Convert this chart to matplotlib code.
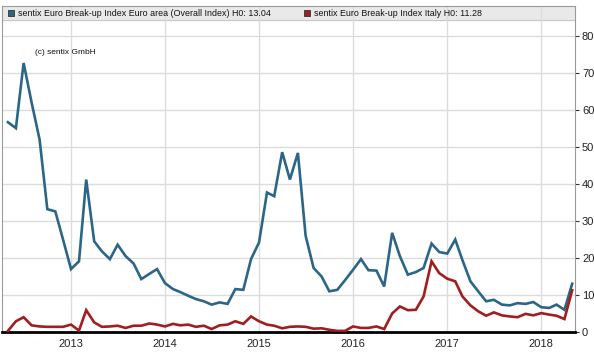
"""sentix Euro Break-up Index: Euro area vs Italy, monthly 2012-2018."""

import matplotlib
matplotlib.use("Agg")
import matplotlib.pyplot as plt
import matplotlib.dates as mdates
from matplotlib import font_manager
import pandas as pd

# monthly readings, May 2012 .. May 2018
months = pd.date_range("2012-05-01", "2018-05-01", freq="MS")

euro_area = [
    56.7, 55.1, 72.7, 62.0, 52.0, 33.2, 32.6, 25.0, 17.0, 19.1,
    41.2, 24.5, 21.8, 19.7, 23.6, 20.5, 18.5, 14.3, 15.7, 17.0,
    13.2, 11.6, 10.8, 9.8, 8.9, 8.3, 7.4, 8.0, 7.6, 11.6,
    11.4, 19.7, 24.2, 37.7, 36.7, 48.6, 41.2, 48.4, 26.0, 17.3,
    15.0, 11.0, 11.4, 14.0, 16.8, 19.7, 16.7, 16.6, 12.3, 26.8,
    20.5, 15.5, 16.2, 17.3, 23.9, 21.6, 21.2, 25.0, 19.4, 13.7,
    11.0, 8.3, 8.7, 7.4, 7.2, 7.8, 7.6, 8.1, 6.7, 6.5,
    7.4, 6.0, 13.04,
]
italy = [
    0.3, 2.9, 4.0, 1.8, 1.5, 1.4, 1.4, 1.4, 2.0, 0.4,
    5.9, 2.6, 1.4, 1.5, 1.7, 1.1, 1.7, 1.7, 2.3, 2.0,
    1.5, 2.2, 1.8, 2.0, 1.4, 1.7, 0.8, 1.8, 2.0, 2.9,
    2.2, 4.2, 2.9, 2.0, 1.7, 1.0, 1.4, 1.5, 1.4, 0.9,
    1.0, 0.6, 0.3, 0.3, 1.5, 1.1, 1.1, 1.5, 0.8, 5.0,
    6.9, 5.9, 6.0, 9.6, 19.1, 15.9, 14.4, 13.7, 9.6, 7.2,
    5.6, 4.4, 5.3, 4.5, 4.2, 4.0, 4.9, 4.5, 5.1, 4.7,
    4.4, 3.5, 11.28,
]

labels = [
    "sentix Euro Break-up Index Euro area (Overall Index) H0: 13.04",
    "sentix Euro Break-up Index Italy H0: 11.28",
]
colors = ["#2b6688", "#a11d1f"]
y_ticks = [0, 10, 20, 30, 40, 50, 60, 70, 80]

plt.rcParams["font.family"] = ["Liberation Sans", "DejaVu Sans"]

# the legend strip uses a condensed face if one is there
installed = {f.name for f in font_manager.fontManager.ttflist}
narrow = "Liberation Sans Narrow" if "Liberation Sans Narrow" in installed else None
legend_font = dict(family=narrow, fontsize=7.8) if narrow else dict(fontsize=6.4)

W, H = 594, 353
fig = plt.figure(figsize=(W / 100, H / 100), dpi=100)
ax = fig.add_axes([2 / W, 21 / H, 573 / W, 326 / H])

ax.plot(months, euro_area, color=colors[0], lw=1.9, zorder=3, solid_joinstyle="miter")
ax.plot(months, italy, color=colors[1], lw=1.9, zorder=3, solid_joinstyle="miter")

ymax = 80 + 30 / 3.7
ax.set_ylim(0, ymax)
ax.set_xlim(pd.Timestamp("2012-04-08"), pd.Timestamp("2018-05-12"))

# legend strip across the top of the plot area
band_lo = 80 + 16 / 3.7
ax.axhspan(band_lo, ymax, color="#e9e9e9", zorder=0.1)
ax.axhline(band_lo, color="#c8c8c8", lw=0.8, zorder=0.2)

ax.yaxis.tick_right()
ax.set_yticks(y_ticks)
ax.tick_params(axis="y", length=3, width=0.8, color="#333333", pad=2,
               labelsize=8, labelcolor="#222222")
ax.xaxis.set_major_locator(mdates.YearLocator())
ax.xaxis.set_major_formatter(mdates.DateFormatter("%Y"))
ax.tick_params(axis="x", length=0, pad=5, labelsize=8, labelcolor="#222222")

ax.grid(True, color="#dcdcdc", lw=1.0, zorder=0.5)
ax.set_axisbelow(True)

for side in ("left", "top", "right"):
    ax.spines[side].set_color("#9a9a9a")
    ax.spines[side].set_linewidth(0.8)
ax.spines["bottom"].set_color("black")
ax.spines["bottom"].set_linewidth(2.0)

# legend entries
legend_y = 1 - 7 / 326
for lbl, col, x0 in zip(labels, colors, [9, 305]):
    ax.plot([x0 / 573], [legend_y], transform=ax.transAxes, marker="s", ms=5,
            mfc=col, mec="#333333", mew=0.6, ls="none", clip_on=False, zorder=5)
    ax.text((x0 + 7) / 573, legend_y, lbl, transform=ax.transAxes,
            va="center", ha="left", color="#111111", **legend_font)

ax.text(33 / 573, 1 - 47 / 326, "(c) sentix GmbH", transform=ax.transAxes,
        fontsize=6, va="center", ha="left", color="#111111")

fig.savefig("out.png", dpi=100)
plt.close(fig)
